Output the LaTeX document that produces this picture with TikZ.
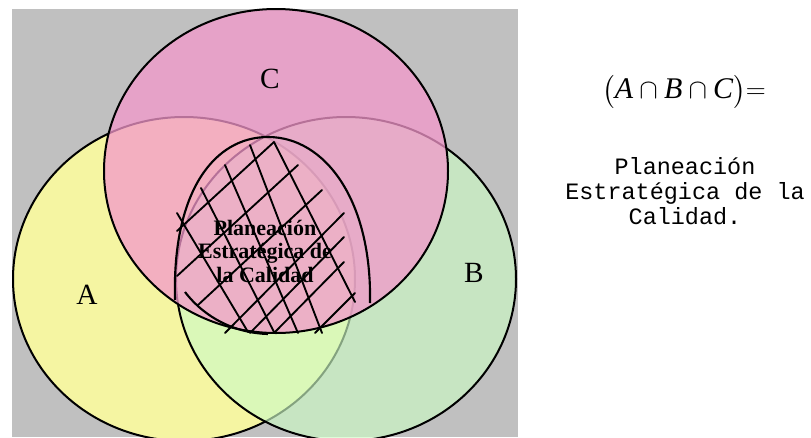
\documentclass[tikz,border=0pt]{standalone}
\usepackage{amsmath}
\usepackage{fontspec}
\setmainfont{Liberation Serif}
\setmonofont{Liberation Mono}
\usepackage{tikz}
\definecolor{venngray}{RGB}{192,192,192}
\definecolor{setyellow}{RGB}{245,245,162}
\definecolor{setgreen}{RGB}{204,250,196}
\definecolor{setpink}{RGB}{243,152,203}
\tikzset{
  setline/.style={draw=black, line width=1.5pt},
  setlabel/.style={font=\fontsize{22}{26}\selectfont},
  hatch/.style={line width=1.4pt, line cap=round},
  eggline/.style={line width=1.6pt},
  intertext/.style={font=\bfseries\fontsize{16.5}{17.6}\selectfont,
    align=center, inner sep=0pt},
  resulttext/.style={font=\ttfamily\fontsize{17.6}{18.75}\selectfont,
    align=center, inner sep=0pt},
}

\begin{document}
\begin{tikzpicture}[x=0.75pt, y=-0.75pt]
  \useasboundingbox (0,0) rectangle (811,437);

  % Background
  \fill[venngray] (12,9) rectangle (518,437);

  % Sets A, B, C
  \begin{scope}
    \clip (0,0) rectangle (811,437);
    \fill[setyellow] (184,279) ellipse [x radius=171, y radius=162];
    \draw[setline] (184,279) ellipse [x radius=171, y radius=162];
    \fill[setgreen, fill opacity=0.65] (346,279) ellipse [x radius=170, y radius=162];
    \draw[setline] (346,279) ellipse [x radius=170, y radius=162];
    \fill[setpink, fill opacity=0.75] (276,171) ellipse [x radius=172, y radius=162];
    \draw[setline] (276,171) ellipse [x radius=172, y radius=162];
  \end{scope}

  % Labels
  \node[setlabel] (labA) at (87,295) {A};
  \node[setlabel] (labB) at (474,273) {B};
  \node[setlabel] (labC) at (270,79) {C};

  % Hatched intersection
  \draw[eggline] (175,300) .. controls (172,190) and (215,137) .. (268,137)
    .. controls (325,137) and (372,200) .. (370,303);
  \draw[eggline] (185,292) .. controls (205,318) and (235,333) .. (268,334);
  \draw[hatch] (177,213) -- (248,332);
  \draw[hatch] (201,188) -- (274,332);
  \draw[hatch] (225,165) -- (298,333);
  \draw[hatch] (250,145) -- (322,333);
  \draw[hatch] (274,142) -- (355,302);
  \draw[hatch] (274,142) -- (177,231);
  \draw[hatch] (298,165) -- (177,276);
  \draw[hatch] (322,190) -- (198,305);
  \draw[hatch] (344,213) -- (225,333);
  \draw[hatch] (344,237) -- (250,333);
  \draw[hatch] (344,262) -- (274,333);
  \draw[hatch] (355,293) -- (315,333);
  \node[intertext] (inter) at (265,251)
    {Planeación\\Estratégica de\\la Calidad};

  % Result
  \node[font=\fontsize{22.5}{27}\selectfont] (formula) at (684,92)
    {$\bigl(\textit{A}\cap\textit{B}\cap\textit{C}\bigr){=}$};
  \node[resulttext] (result) at (685,191)
    {Planeación\\Estratégica de la\\Calidad.};
\end{tikzpicture}
\end{document}
